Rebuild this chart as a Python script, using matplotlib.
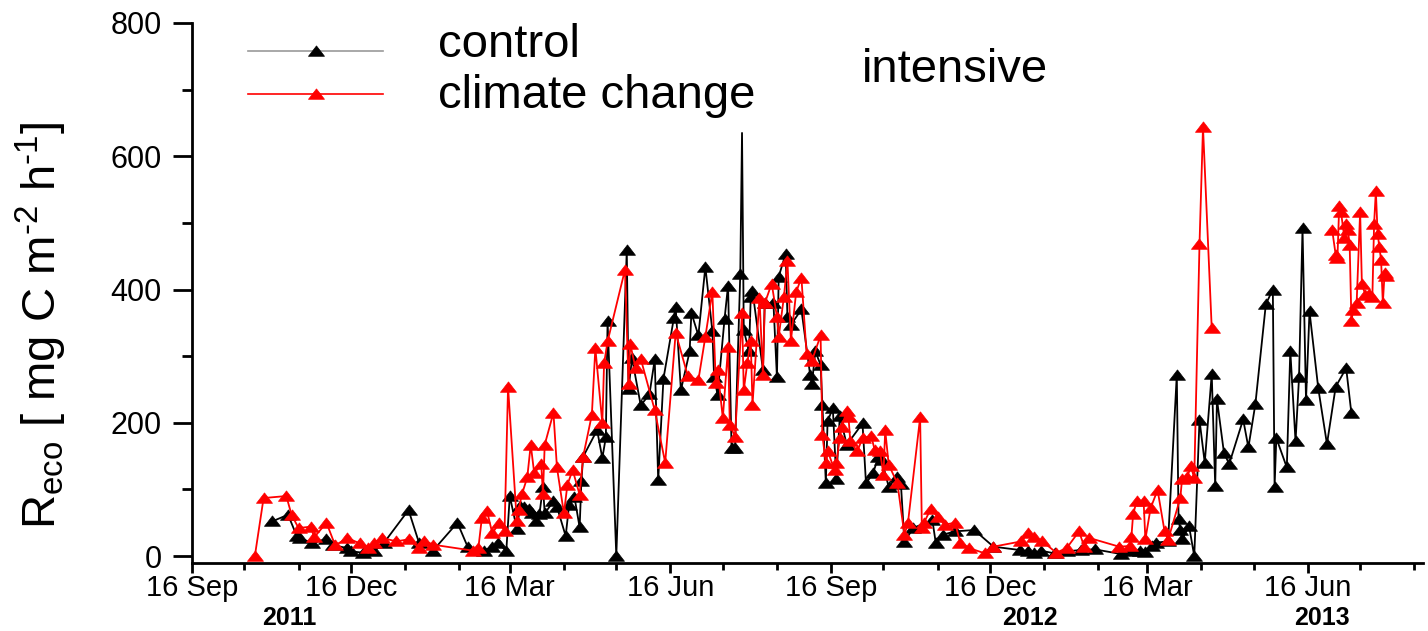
import numpy as np
import matplotlib
matplotlib.use("Agg")
import matplotlib.pyplot as plt
import matplotlib.dates as mdates
import matplotlib.transforms as mtransforms
from matplotlib.lines import Line2D

plt.rcParams['font.family'] = ['Liberation Sans', 'DejaVu Sans']
plt.rcParams['mathtext.fontset'] = 'custom'
plt.rcParams['mathtext.rm'] = 'Liberation Sans'
plt.rcParams['mathtext.it'] = 'Liberation Sans'

# ---- data (days after 16 Sep 2011, R_eco in mg C m-2 h-1) ----
start_date = np.datetime64('2011-09-16')

control_days = [46, 55, 60, 62, 69, 77, 81, 89, 91, 98, 104, 110, 124, 130, 138, 152, 158, 167, 172, 175,
                180, 182, 186, 188, 190, 193, 195, 197, 199, 201, 202, 207, 209, 214, 216, 219, 222, 223, 224, 232,
                235, 237, 238, 243, 249, 250, 252, 257, 262, 265, 267, 270, 276, 277, 280, 285, 286, 290, 294, 298,
                299, 301, 305, 307, 309, 311, 314, 315, 316, 319, 320, 321, 327, 328, 333, 335, 336, 340, 341, 343,
                349, 354, 355, 357, 360, 361, 363, 364, 367, 369, 371, 375, 384, 386, 390, 393, 395, 399, 404, 406,
                408, 413, 424, 426, 430, 437, 448, 459, 474, 479, 482, 486, 494, 501, 509, 517, 532, 538, 543, 546,
                550, 552, 559, 564, 565, 566, 567, 571, 574, 577, 580, 584, 586, 587, 591, 594, 602, 605, 609, 615,
                619, 620, 621, 627, 629, 632, 634, 636, 638, 640, 645, 650, 655, 661, 664]
control_vals = [52, 62, 30, 27, 19, 26, 16, 12, 7, 5, 7, 20, 69, 20, 8, 50, 13, 8, 14, 19,
                8, 90, 41, 75, 74, 71, 65, 52, 63, 104, 64, 82, 74, 30, 77, 89, 43, 112, 149, 189,
                147, 178, 352, 0, 459, 250, 297, 226, 243, 295, 114, 266, 357, 373, 249, 307, 365, 331, 434, 338,
                269, 242, 356, 406, 162, 162, 423, 635, 339, 307, 388, 398, 279, 380, 379, 268, 419, 454, 359, 347,
                370, 272, 258, 307, 287, 227, 110, 202, 222, 115, 210, 167, 199, 109, 124, 148, 144, 104, 119, 108,
                21, 42, 54, 19, 32, 37, 39, 14, 9, 7, 4, 8, 4, 7, 9, 10, 3, 7, 8, 6,
                15, 20, 22, 272, 55, 39, 25, 45, 0, 204, 140, 273, 105, 235, 155, 138, 205, 163, 228, 378,
                400, 104, 177, 133, 308, 172, 268, 492, 234, 367, 252, 168, 254, 282, 214]

cc_days = [36, 41, 54, 57, 61, 68, 70, 77, 82, 89, 96, 101, 104, 109, 117, 124, 130, 133, 138, 161,
           164, 166, 169, 172, 176, 179, 181, 186, 187, 189, 192, 194, 196, 200, 201, 202, 207, 209, 213, 215,
           218, 222, 224, 229, 231, 235, 236, 238, 248, 250, 251, 254, 257, 265, 271, 277, 284, 290, 294, 298,
           300, 301, 304, 307, 308, 311, 315, 316, 318, 320, 321, 325, 327, 328, 332, 335, 336, 339, 341, 343,
           346, 349, 352, 355, 360, 361, 363, 364, 368, 369, 371, 372, 375, 376, 377, 381, 384, 389, 391, 394,
           396, 397, 399, 404, 408, 410, 417, 418, 419, 423, 427, 431, 437, 440, 445, 454, 459, 475, 479, 482,
           487, 495, 501, 508, 511, 514, 531, 537, 538, 539, 541, 545, 546, 549, 553, 557, 559, 566, 567, 570,
           572, 574, 577, 579, 584, 618, 653, 655, 656, 657, 658, 660, 661, 662, 663, 664, 665, 667, 669, 670,
           672, 674, 676, 677, 678, 679, 680, 681, 682, 683, 684]
cc_vals = [0, 87, 90, 62, 42, 44, 28, 50, 16, 27, 19, 12, 19, 27, 22, 25, 12, 23, 17, 8,
           12, 57, 67, 34, 50, 38, 254, 53, 69, 93, 118, 167, 124, 138, 93, 167, 215, 133, 64, 107,
           129, 92, 149, 212, 312, 199, 289, 322, 430, 258, 318, 282, 296, 219, 140, 335, 270, 264, 329, 397,
           259, 279, 207, 313, 197, 179, 364, 249, 289, 323, 227, 387, 272, 379, 409, 359, 329, 389, 443, 323,
           396, 418, 303, 293, 331, 182, 139, 158, 129, 139, 177, 194, 217, 208, 172, 157, 177, 180, 159, 157,
           122, 189, 137, 109, 32, 49, 208, 42, 49, 70, 59, 47, 50, 20, 12, 4, 14, 22, 35, 29,
           22, 5, 12, 37, 14, 27, 14, 15, 29, 63, 82, 82, 25, 72, 99, 37, 24, 87, 115, 118,
           135, 117, 468, 644, 342, np.nan, 489, 452, 447, 525, 517, 477, 498, 489, 467, 353, 369, 380, 517, 408,
           392, 393, 389, 499, 548, 484, 464, 444, 379, 425, 420]

x_end_day = 705
legend_labels = ['control', 'climate change']
panel_label = 'intensive'
year_labels = ['2011', '2012', '2013']
year_label_days = [56, 480, 647]

# ---- figure ----
fig = plt.figure(figsize=(14.28, 6.31), dpi=100)
ax = fig.add_axes([192/1428, 68/631, 1231/1428, 540/631])

c_dates = start_date + np.array(control_days).astype('timedelta64[D]')
r_dates = start_date + np.array(cc_days).astype('timedelta64[D]')
c_vals = np.array(control_vals, dtype=float)
r_vals = np.array(cc_vals, dtype=float)

tri = [(-1, -0.6), (1, -0.6), (0, 0.7), (-1, -0.6)]
mk_idx = [i for i, v in enumerate(c_vals) if v < 600]
MS = 11.5

ax.plot(c_dates, c_vals, color='black', lw=1.3, marker=tri, markersize=MS,
        markeredgewidth=0.5, markevery=mk_idx, zorder=3)
ax.plot(r_dates, r_vals, color='#ff0000', lw=1.3, marker=tri, markersize=MS,
        markeredgewidth=0.5, zorder=4)

ax.set_xlim(start_date, start_date + np.timedelta64(x_end_day, 'D'))
ax.set_ylim(-10.5, 800)

ax.spines['top'].set_visible(False)
ax.spines['right'].set_visible(False)
for s in ['left', 'bottom']:
    ax.spines[s].set_linewidth(2)

ax.xaxis.set_major_locator(mdates.MonthLocator(bymonth=[3, 6, 9, 12], bymonthday=16))
ax.xaxis.set_minor_locator(mdates.MonthLocator(bymonthday=16))
ax.xaxis.set_major_formatter(mdates.DateFormatter('%d %b'))
ax.yaxis.set_major_locator(matplotlib.ticker.MultipleLocator(200))
ax.yaxis.set_minor_locator(matplotlib.ticker.MultipleLocator(100))

ax.tick_params(axis='x', which='major', length=7, width=2, direction='out', labelsize=21, pad=1)
ax.tick_params(axis='x', which='minor', length=5, width=2, direction='out')
ax.tick_params(axis='y', which='major', length=14, width=2, direction='out', labelsize=22, pad=8)
ax.tick_params(axis='y', which='minor', length=7, width=2, direction='out')

ax.set_ylabel(r'R$_{\mathrm{eco}}$ [ mg C m$^{\text{-2}}$ h$^{\text{-1}}$]', fontsize=34)
ax.yaxis.set_label_coords(-0.1, 0.44)

trans = mtransforms.blended_transform_factory(ax.transData, ax.transAxes)
for lab, d in zip(year_labels, year_label_days):
    ax.text(start_date + np.timedelta64(d, 'D'), -0.1148, lab, transform=trans,
            ha='center', va='baseline', fontsize=18, fontweight='bold')

# legend (drawn manually)
leg_colors = [('#999999', 'black'), ('#ff0000', '#ff0000')]
leg_y = [0.948, 0.8685]
text_y = [0.937, 0.8426]
for (lc, mc), y, t, ty in zip(leg_colors, leg_y, legend_labels, text_y):
    ax.add_line(Line2D([0.0455, 0.155], [y, y], color=lc, lw=1.2, transform=ax.transAxes, clip_on=False))
    ax.add_line(Line2D([0.1007], [y], color=mc, marker=tri, markersize=MS, markeredgewidth=0.5,
                       transform=ax.transAxes, clip_on=False))
    ax.text(0.2, ty, t, transform=ax.transAxes, fontsize=34, ha='left', va='baseline')

ax.text(0.544, 0.8907, panel_label, transform=ax.transAxes, fontsize=34, ha='left', va='baseline')

fig.savefig('out.png', dpi=100)
